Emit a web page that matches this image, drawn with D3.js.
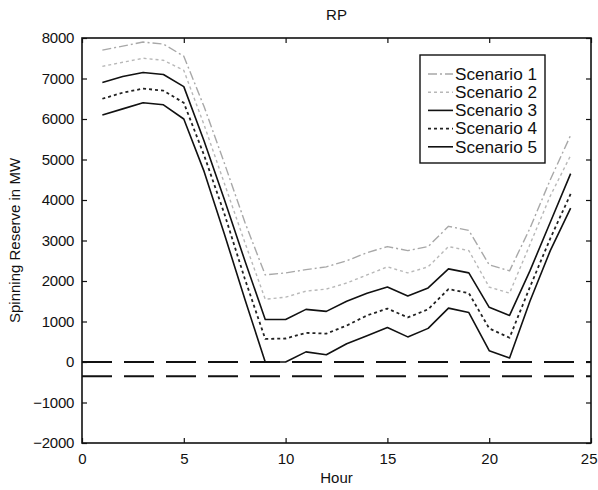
<!DOCTYPE html>
<html><head><meta charset="utf-8">
<script src="https://cdn.jsdelivr.net/npm/d3@7"></script>
<style>
body{margin:0;background:#fff;}
text{font-family:"Liberation Sans",Arial,sans-serif;fill:#111;}
</style></head>
<body><svg id="c" width="598" height="490"></svg>
<script>
const hours = [1,2,3,4,5,6,7,8,9,10,11,12,13,14,15,16,17,18,19,20,21,22,23,24];
const scenario1 = [7700,7800,7900,7850,7550,6300,4900,3450,2150,2200,2280,2350,2500,2700,2850,2750,2850,3350,3250,2400,2250,3300,4500,5600];
const scenario2 = [7300,7400,7500,7450,7200,5850,4400,2950,1550,1600,1750,1800,1950,2150,2350,2200,2350,2850,2750,1850,1700,2900,4100,5100];
const scenario3 = [6900,7050,7150,7100,6800,5450,4000,2500,1050,1050,1300,1250,1500,1700,1850,1630,1830,2300,2200,1350,1150,2250,3450,4650];
const scenario4 = [6500,6650,6750,6700,6400,5100,3650,2050,570,580,720,700,900,1150,1320,1100,1300,1800,1700,830,600,1850,3050,4150];
const scenario5 = [6100,6250,6400,6350,6000,4700,3150,1550,0,0,250,180,450,650,850,620,830,1330,1220,280,100,1500,2750,3800];
const seriesNames = ["Scenario 1","Scenario 2","Scenario 3","Scenario 4","Scenario 5"];
const refLines = [0, -350];
const xTicks = [0,5,10,15,20,25];
const yTicks = [-2000,-1000,0,1000,2000,3000,4000,5000,6000,7000,8000];
const title = "RP", xLabel = "Hour", yLabel = "Spinning Reserve in MW";

const styles = [
  {stroke:"#a8a8a8", dash:"9,3,2,3", w:1.4},
  {stroke:"#b8b8b8", dash:"3,3", w:1.4},
  {stroke:"#111", dash:null, w:1.6},
  {stroke:"#222", dash:"3,3", w:1.8},
  {stroke:"#111", dash:null, w:1.6}
];
const allSeries = [scenario1,scenario2,scenario3,scenario4,scenario5];

const L=82,R=591,T=38,B=443;
const svg = d3.select("#c");
const x = d3.scaleLinear().domain([0,25]).range([L,R]);
const y = d3.scaleLinear().domain([-2000,8000]).range([B,T]);

const tl=5;
const g = svg.append("g");
const fmt = d3.format("d");
g.append("g").attr("transform",`translate(0,${B})`)
 .call(d3.axisBottom(x).tickValues(xTicks).tickSizeInner(-tl).tickSizeOuter(0).tickPadding(10).tickFormat(fmt))
 .call(a=>{a.select(".domain").remove();a.selectAll("text").attr("font-size",15);
   a.selectAll(".tick").filter(d=>d===25).select("text").attr("text-anchor","end").attr("x",6);});
g.append("g").attr("transform",`translate(0,${T})`)
 .call(d3.axisTop(x).tickValues(xTicks).tickSizeInner(-tl).tickSizeOuter(0).tickFormat(""))
 .call(a=>a.select(".domain").remove());
g.append("g").attr("transform",`translate(${L},0)`)
 .call(d3.axisLeft(y).tickValues(yTicks).tickSizeInner(-tl).tickSizeOuter(0).tickPadding(8).tickFormat(fmt))
 .call(a=>{a.select(".domain").remove();a.selectAll("text").attr("font-size",15).attr("letter-spacing","-0.3");});
g.append("g").attr("transform",`translate(${R},0)`)
 .call(d3.axisRight(y).tickValues(yTicks).tickSizeInner(-tl).tickSizeOuter(0).tickFormat(""))
 .call(a=>a.select(".domain").remove());
g.selectAll(".tick line").attr("stroke","#111").attr("stroke-width",1.2);

svg.selectAll("line.ref").data(refLines).enter().append("line")
 .attr("x1",L).attr("x2",R).attr("y1",d=>y(d)).attr("y2",d=>y(d))
 .attr("stroke","#111").attr("stroke-width",2).attr("stroke-dasharray","30,12");

const line = d3.line().x((d,i)=>x(hours[i])).y(d=>y(d));
allSeries.forEach((s,k)=>{
  svg.append("path").datum(s).attr("d",line).attr("fill","none")
   .attr("stroke",styles[k].stroke).attr("stroke-width",styles[k].w)
   .attr("stroke-dasharray",styles[k].dash).attr("stroke-linejoin","round");
});

svg.append("rect").attr("x",L).attr("y",T).attr("width",R-L).attr("height",B-T)
 .attr("fill","none").attr("stroke","#111").attr("stroke-width",1.6);

const lx=420, ly=55, lw=125, lh=108;
svg.append("rect").attr("x",lx).attr("y",ly).attr("width",lw).attr("height",lh)
 .attr("fill","#fff").attr("stroke","#111").attr("stroke-width",1.4);
seriesNames.forEach((n,k)=>{
  const yy = 74 + k*18.2;
  svg.append("line").attr("x1",428).attr("x2",453).attr("y1",yy).attr("y2",yy)
   .attr("stroke",styles[k].stroke).attr("stroke-width",styles[k].w)
   .attr("stroke-dasharray",styles[k].dash);
  svg.append("text").attr("x",455).attr("y",yy).attr("dy","0.36em")
   .attr("font-size",16).attr("textLength",82).attr("lengthAdjust","spacingAndGlyphs").text(n);
});

svg.append("text").attr("x",(L+R)/2).attr("y",20).attr("text-anchor","middle").attr("font-size",15).text(title);
svg.append("text").attr("x",(L+R)/2).attr("y",483).attr("text-anchor","middle").attr("font-size",15).text(xLabel);
svg.append("text").attr("transform",`translate(20,${(T+B)/2}) rotate(-90)`).attr("text-anchor","middle")
 .attr("font-size",15).text(yLabel);
</script></body></html>
